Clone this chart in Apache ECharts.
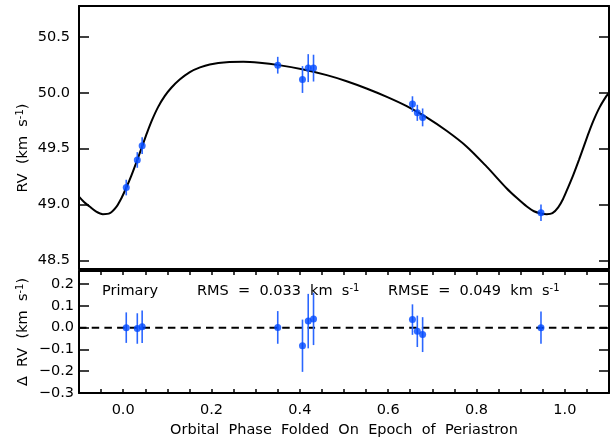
<!DOCTYPE html>
<html>
<head>
<meta charset="utf-8">
<script src="https://cdn.jsdelivr.net/npm/echarts@6/dist/echarts.min.js"></script>
<style>
html,body{margin:0;padding:0;background:#fff;}
#chart{width:610px;height:440px;}
</style>
</head>
<body>
<div id="chart"></div>
<script>
// ---- data ----
const obsPhase = [0.007, 0.032, 0.043, 0.350, 0.406, 0.419, 0.431, 0.655, 0.666, 0.678, 0.946];
const obsRV    = [49.152, 49.399, 49.527, 50.247, 50.119, 50.221, 50.221, 49.899, 49.821, 49.780, 48.926];
const obsErr   = [0.070, 0.070, 0.075, 0.075, 0.120, 0.125, 0.120, 0.070, 0.072, 0.080, 0.074];
const residual = [0.000, -0.004, 0.004, 0.001, -0.083, 0.030, 0.040, 0.037, -0.017, -0.032, 0.000];

const modelPhase = [-0.100, -0.088, -0.076, -0.061, -0.046, -0.030, -0.015, -0.004, 0.007, 0.019, 0.032, 0.043,
  0.054, 0.066, 0.079, 0.094, 0.109, 0.128, 0.151, 0.174, 0.196, 0.234, 0.272, 0.309, 0.349, 0.408, 0.461,
  0.506, 0.551, 0.597, 0.642, 0.687, 0.733, 0.778, 0.823, 0.868, 0.891, 0.914, 0.930, 0.946, 0.959, 0.972,
  0.985, 0.996, 1.007, 1.019, 1.032, 1.043, 1.054, 1.066, 1.079, 1.094, 1.100];
const modelRV = [49.071, 49.020, 48.982, 48.937, 48.914, 48.923, 48.982, 49.057, 49.150, 49.264, 49.400, 49.521,
  49.642, 49.762, 49.872, 49.970, 50.045, 50.119, 50.186, 50.228, 50.254, 50.274, 50.277, 50.268, 50.250, 50.209, 50.158,
  50.104, 50.039, 49.964, 49.881, 49.780, 49.658, 49.518, 49.339, 49.146, 49.060, 48.982, 48.940, 48.920, 48.914, 48.923,
  48.975, 49.050, 49.150, 49.264, 49.400, 49.521, 49.642, 49.762, 49.872, 49.970, 50.000];

const zeroLine = [[-0.1, 0], [1.1, 0]];

const xLabelTicks = [0.0, 0.2, 0.4, 0.6, 0.8, 1.0];
const xMinorTicks = [-0.1, -0.05, 0.0, 0.05, 0.1, 0.15, 0.2, 0.25, 0.3, 0.35, 0.4, 0.45, 0.5, 0.55,
  0.6, 0.65, 0.7, 0.75, 0.8, 0.85, 0.9, 0.95, 1.0, 1.05, 1.1];
const rvTicks = [48.5, 49.0, 49.5, 50.0, 50.5];
const resTicks = [-0.3, -0.2, -0.1, 0.0, 0.1, 0.2];

const xTitle = 'Orbital  Phase  Folded  On  Epoch  of  Periastron';
const yTitleTop = 'RV  (km  s{sup|-1})';
const yTitleBottom = '\u0394  RV  (km  s{sup|-1})';
const txtPrimary = 'Primary';
const txtRMS = 'RMS  =  0.033  km  s{sup|-1}';
const txtRMSE = 'RMSE  =  0.049  km  s{sup|-1}';

// ---- styling ----
const FONT = '"DejaVu Sans", Verdana, sans-serif';
const BLUE = '#0048ff';
const BAR = '#2a66ff';
const axisLine = {show: true, onZero: false, lineStyle: {color: '#000', width: 2}};
const fmt1 = v => v.toFixed(1).replace('-', '\u2212');
const richSup = {sup: {fontSize: 10, fontFamily: FONT, fill: '#000', verticalAlign: 'top', lineHeight: 10}};

function errBars(xs, ys, es) {
  return xs.map((x, i) => [x, ys[i], es[i]]);
}
function renderErr(params, api) {
  const x = api.value(0), y = api.value(1), e = api.value(2);
  const a = api.coord([x, y - e]), b = api.coord([x, y + e]);
  return {type: 'line', shape: {x1: a[0], y1: a[1], x2: b[0], y2: b[1]},
          style: {stroke: BAR, lineWidth: 1.6}};
}
function txt(x, y, text, opts) {
  return Object.assign({type: 'text', x: x, y: y,
    style: {text: text, fontSize: 14.5, fontFamily: FONT, fill: '#000', align: 'left', verticalAlign: 'middle', rich: richSup}}, opts || {});
}

const chart = echarts.init(document.getElementById('chart'), null, {renderer: 'canvas'});
const xBase = {type: 'value', min: -0.1, max: 1.1, splitLine: {show: false}, axisLine: axisLine};
chart.setOption({
  animation: false,
  backgroundColor: '#fff',
  textStyle: {fontFamily: FONT},
  grid: [
    {left: 79, right: 1, top: 6, height: 263},
    {left: 79, right: 1, top: 271, height: 122}
  ],
  xAxis: [
    Object.assign({}, xBase, {gridIndex: 0, position: 'bottom', axisTick: {show: false}, axisLabel: {show: false}}),
    Object.assign({}, xBase, {gridIndex: 0, position: 'top', axisTick: {show: false}, axisLabel: {show: false}}),
    Object.assign({}, xBase, {gridIndex: 1, position: 'bottom',
      axisTick: {show: true, inside: true, length: 4, customValues: xMinorTicks, lineStyle: {color: '#000', width: 1.5}},
      axisLabel: {show: true, customValues: xLabelTicks, formatter: fmt1, fontSize: 14.5, fontFamily: FONT, color: '#000', margin: 10}}),
    Object.assign({}, xBase, {gridIndex: 1, position: 'top',
      axisTick: {show: true, inside: true, length: 4, customValues: xMinorTicks, lineStyle: {color: '#000', width: 1.5}},
      axisLabel: {show: false}})
  ],
  yAxis: [
    {type: 'value', gridIndex: 0, position: 'left', min: 48.423, max: 50.777, splitLine: {show: false}, axisLine: axisLine,
      axisTick: {show: true, inside: true, length: 10, customValues: rvTicks, lineStyle: {color: '#000', width: 1.5}},
      axisLabel: {show: true, customValues: rvTicks, formatter: fmt1, fontSize: 14.5, fontFamily: FONT, color: '#000', margin: 9}},
    {type: 'value', gridIndex: 0, position: 'right', min: 48.423, max: 50.777, splitLine: {show: false}, axisLine: axisLine,
      axisTick: {show: true, inside: true, length: 10, customValues: rvTicks, lineStyle: {color: '#000', width: 1.5}},
      axisLabel: {show: false}},
    {type: 'value', gridIndex: 1, position: 'left', min: -0.3, max: 0.26, splitLine: {show: false}, axisLine: axisLine,
      axisTick: {show: true, inside: true, length: 10, customValues: resTicks, lineStyle: {color: '#000', width: 1.5}},
      axisLabel: {show: true, customValues: resTicks, formatter: fmt1, fontSize: 14.5, fontFamily: FONT, color: '#000', margin: 5}},
    {type: 'value', gridIndex: 1, position: 'right', min: -0.3, max: 0.26, splitLine: {show: false}, axisLine: axisLine,
      axisTick: {show: true, inside: true, length: 10, customValues: resTicks, lineStyle: {color: '#000', width: 1.5}},
      axisLabel: {show: false}}
  ],
  series: [
    {type: 'line', xAxisIndex: 0, yAxisIndex: 0, data: modelPhase.map((p, i) => [p, modelRV[i]]),
      smooth: 0.3, symbol: 'none', lineStyle: {color: '#000', width: 2}, z: 2, clip: true},
    {type: 'custom', xAxisIndex: 0, yAxisIndex: 0, data: errBars(obsPhase, obsRV, obsErr), renderItem: renderErr, z: 3},
    {type: 'scatter', xAxisIndex: 0, yAxisIndex: 0, data: obsPhase.map((p, i) => [p, obsRV[i]]),
      symbol: 'circle', symbolSize: 7, itemStyle: {color: BLUE}, z: 4},
    {type: 'line', xAxisIndex: 2, yAxisIndex: 2, data: zeroLine, symbol: 'none',
      lineStyle: {color: '#000', width: 2, type: [7.5, 5.2]}, z: 2},
    {type: 'custom', xAxisIndex: 2, yAxisIndex: 2, data: errBars(obsPhase, residual, obsErr), renderItem: renderErr, z: 3},
    {type: 'scatter', xAxisIndex: 2, yAxisIndex: 2, data: obsPhase.map((p, i) => [p, residual[i]]),
      symbol: 'circle', symbolSize: 7, itemStyle: {color: BLUE}, z: 4}
  ],
  graphic: [
    txt(344, 430, xTitle, {style: {text: xTitle, fontSize: 14.5, fontFamily: FONT, fill: '#000', align: 'center', verticalAlign: 'middle'}}),
    {type: 'text', x: 23, y: 148, rotation: Math.PI / 2,
      style: {text: yTitleTop, fontSize: 14.5, fontFamily: FONT, fill: '#000', align: 'center', verticalAlign: 'middle', rich: richSup}},
    {type: 'text', x: 23, y: 332, rotation: Math.PI / 2,
      style: {text: yTitleBottom, fontSize: 14.5, fontFamily: FONT, fill: '#000', align: 'center', verticalAlign: 'middle', rich: richSup}},
    txt(102, 291, txtPrimary),
    txt(197, 291, txtRMS),
    txt(388, 291, txtRMSE)
  ]
});
</script>
</body>
</html>
